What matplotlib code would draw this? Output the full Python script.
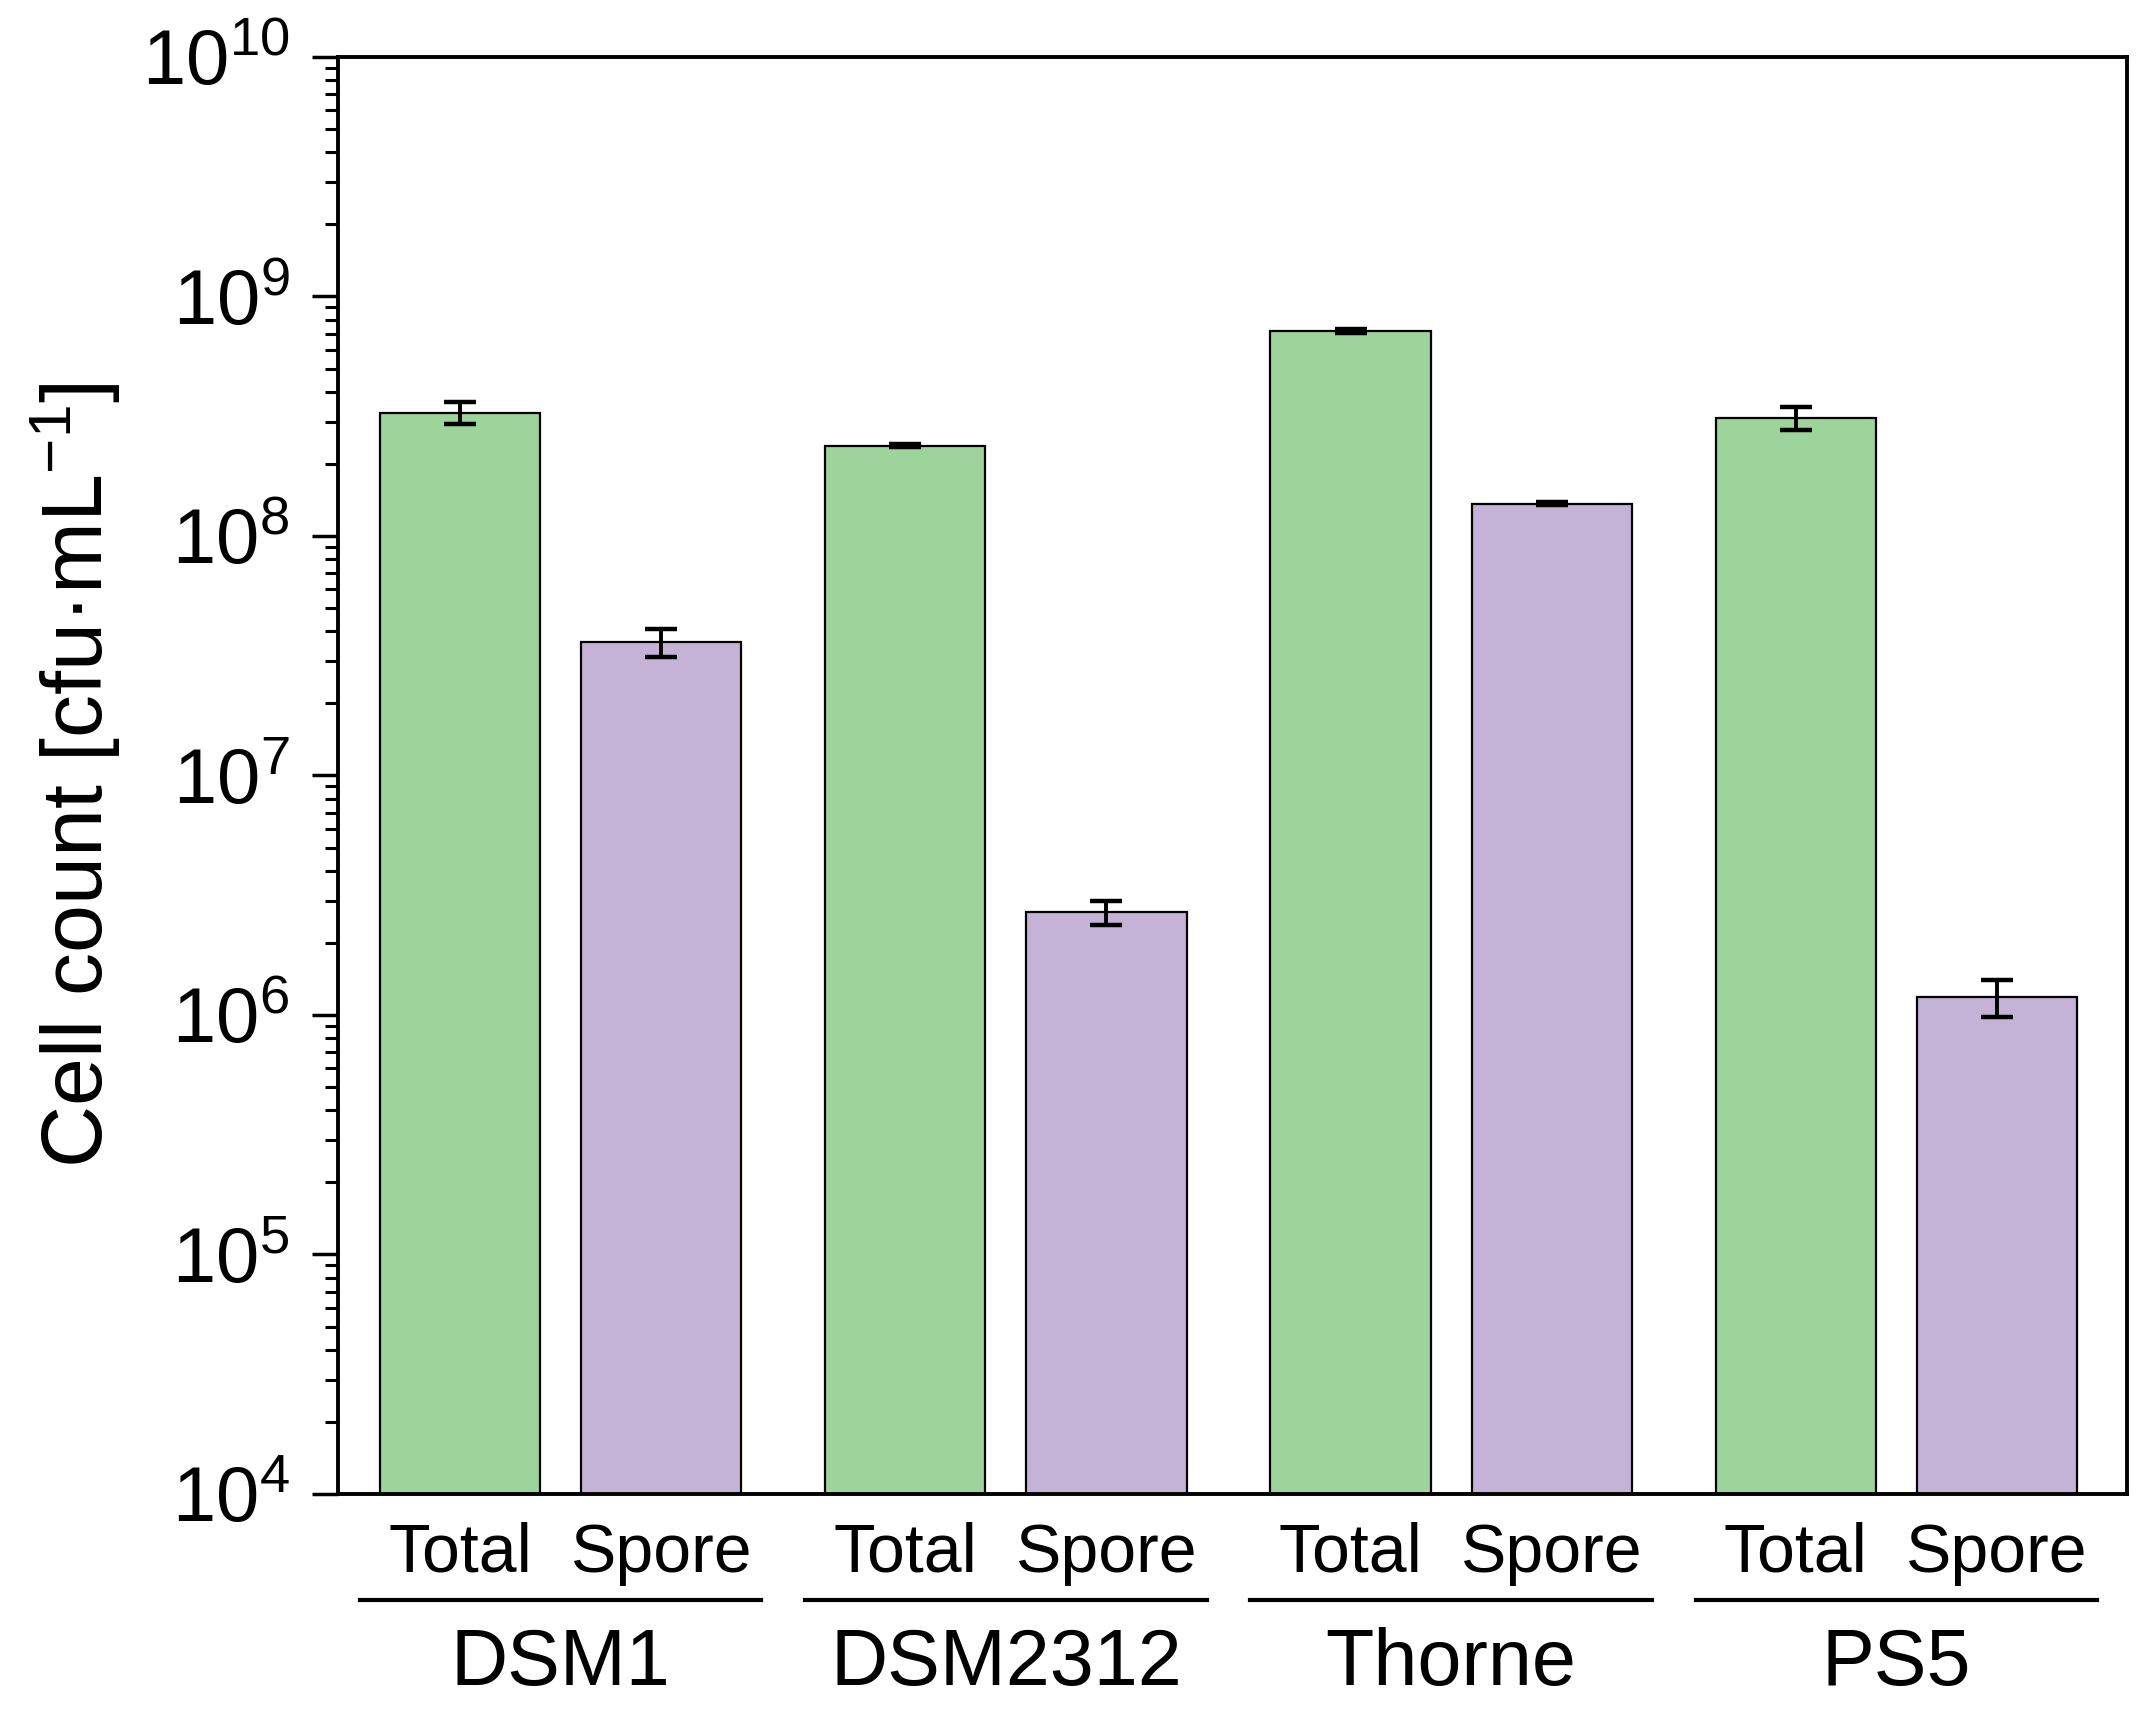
import numpy as np
import matplotlib.pyplot as plt
from matplotlib.ticker import LogLocator, FixedLocator, NullFormatter
from matplotlib.transforms import blended_transform_factory

# data
strains = ['DSM1', 'DSM2312', 'Thorne', 'PS5']
bar_labels = ['Total', 'Spore']
total = [3.27e8, 2.38e8, 7.18e8, 3.11e8]
total_err = [0.35e8, 0.03e8, 0.12e8, 0.33e8]
spore = [3.6e7, 2.68e6, 1.36e8, 1.19e6]
spore_err = [0.47e7, 0.31e6, 0.02e8, 0.21e6]

green = '#9dd49b'
purple = '#c4b3d6'

plt.rcParams['font.family'] = 'Liberation Sans'
plt.rcParams['mathtext.fontset'] = 'custom'
plt.rcParams['mathtext.rm'] = 'Liberation Sans'
plt.rcParams['mathtext.it'] = 'Liberation Sans'

fig = plt.figure(figsize=(21.45, 17.19), dpi=100)
ax = fig.add_axes([0.1576, 0.1309, 0.834, 0.836])

# layout in bar-width units
w = 1.0
inner = 1.256     # Total -> Spore distance
pitch = 2.78      # group to group
g = np.arange(len(strains)) * pitch
x_tot = g
x_spo = g + inner

err_kw = dict(ecolor='black', elinewidth=2.8, capsize=11.5, capthick=3.2)
ax.bar(x_tot, total, width=w, color=green, edgecolor='black', linewidth=1.6,
       yerr=total_err, error_kw=err_kw, zorder=2)
ax.bar(x_spo, spore, width=w, color=purple, edgecolor='black', linewidth=1.6,
       yerr=spore_err, error_kw=err_kw, zorder=2)

ax.set_yscale('log')
ax.set_ylim(1e4, 1e10)
ax.set_xlim(x_tot[0] - 0.7625, x_spo[-1] + 0.8125)

ax.yaxis.set_major_locator(FixedLocator([10.0 ** k for k in range(4, 11)]))
ax.yaxis.set_minor_locator(LogLocator(base=10, subs=np.arange(2, 10)))
ax.yaxis.set_minor_formatter(NullFormatter())
ax.set_yticklabels([r'$10^{%d}$' % k for k in range(4, 11)])
ax.tick_params(axis='y', which='major', direction='out', length=19, width=2.5,
               labelsize=56, pad=16, right=False)
ax.tick_params(axis='y', which='minor', direction='out', length=9.5, width=2.2,
               right=False)

# category labels under each bar
xs = np.ravel(np.column_stack([x_tot, x_spo]))
ax.set_xticks(xs)
ax.set_xticklabels(bar_labels * len(strains))
ax.tick_params(axis='x', length=0, labelsize=49, pad=20)

for s in ax.spines.values():
    s.set_linewidth(2.8)

ax.set_ylabel('Cell count [cfu·mL$^{\\mathregular{-1}}$]', fontsize=62)
ax.yaxis.set_label_coords(-0.12, 0.5)

# group lines and strain names
trans = blended_transform_factory(ax.transData, ax.transAxes)
for i, name in enumerate(strains):
    x0 = x_tot[i] - 0.625
    x1 = x_spo[i] + 0.625
    ax.plot([x0, x1], [-0.0738, -0.0738], color='black', lw=3,
            transform=trans, clip_on=False)
    ax.text((x_tot[i] + x_spo[i]) / 2, -0.119, name, transform=trans,
            ha='center', va='center', fontsize=57)

fig.savefig('out.png', dpi=100)
